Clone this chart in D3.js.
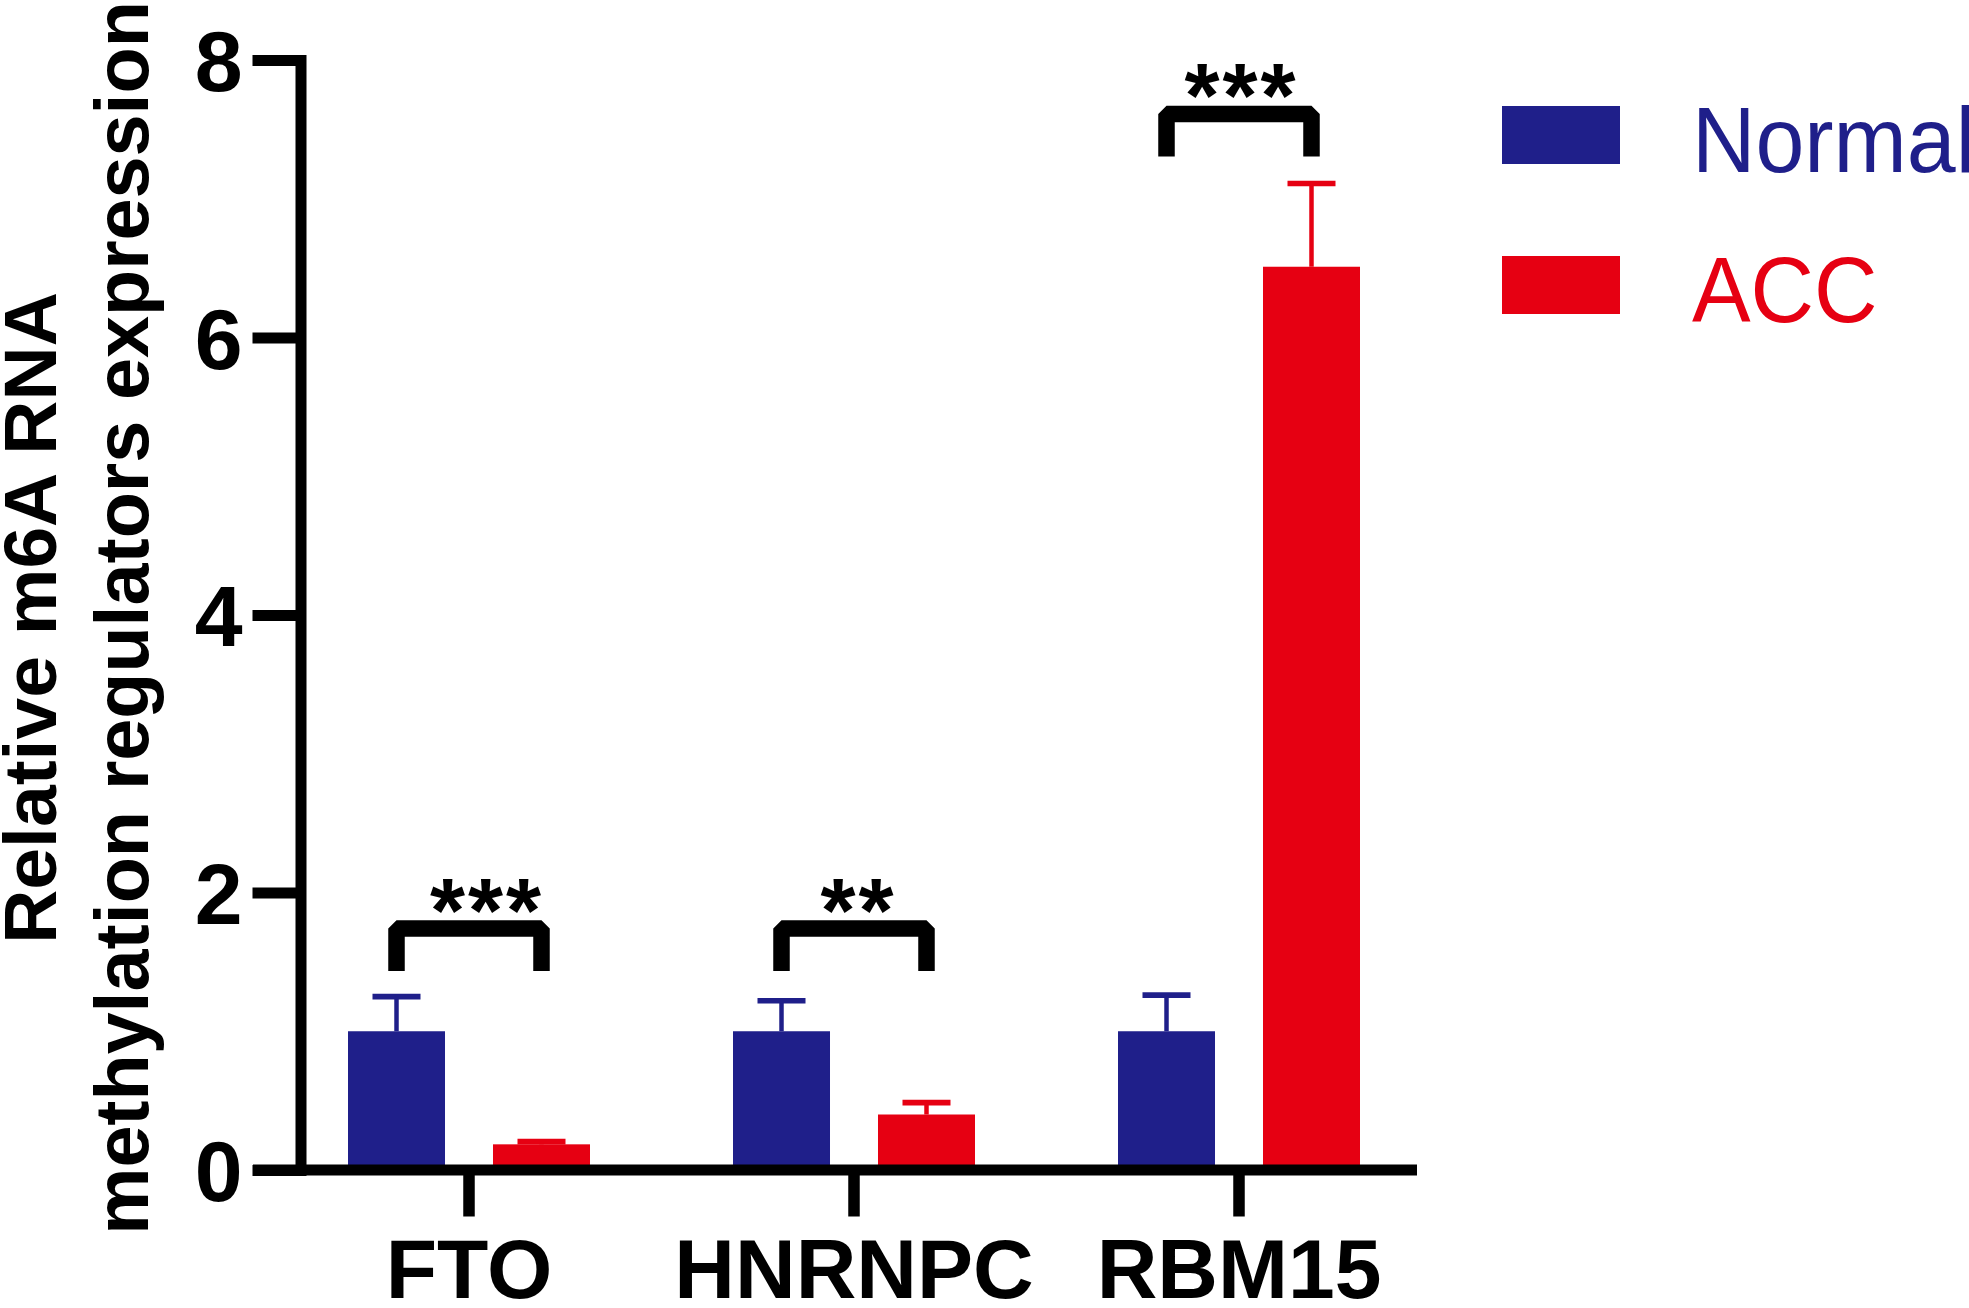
<!DOCTYPE html>
<html><head><meta charset="utf-8">
<script src="https://cdn.jsdelivr.net/npm/d3@7"></script>
<style>html,body{margin:0;padding:0;background:#fff;} svg{display:block;}</style>
</head><body>
<svg id="chart" width="1969" height="1308"></svg>
<script>
// ---- data ----
const categories = ["FTO", "HNRNPC", "RBM15"];
const seriesNames = ["Normal", "ACC"];
const normalMeans = [1.0, 1.0, 1.0];
const normalErrors = [0.25, 0.22, 0.26];
const accMeans = [0.185, 0.40, 6.51];
const accErrors = [0.02, 0.085, 0.60];
const yTickValues = [0, 2, 4, 6, 8];
const sigLabels = ["***", "**", "***"];
const sigLevels = [1.74, 1.74, 7.61];
const sigDrop = 0.306;
const yTitleLines = ["Relative m6A RNA", "methylation regulators expression"];

// ---- styles ----
const colors = {Normal: "#1f1f8a", ACC: "#e60012"};
const FONT = "'Liberation Sans', Arial, Helvetica, sans-serif";
const starShift = [18, 4.5, 2.5];

const svg = d3.select("#chart");
const y = d3.scaleLinear().domain([0, 8]).range([1170, 60]);
const x = d3.scaleBand().domain(categories).range([276.5, 1431.5]).padding(0);
const sub = d3.scaleBand().domain(seriesNames).range([-121, 121]).paddingInner(0.331);
const cx = c => x(c) + x.bandwidth() / 2;

const rows = categories.map((c, i) => ({
  cat: c,
  vals: [
    {s: "Normal", m: normalMeans[i], e: normalErrors[i]},
    {s: "ACC", m: accMeans[i], e: accErrors[i]}
  ]
}));

// bars
const g = svg.append("g");
const grp = g.selectAll("g.cat").data(rows).join("g")
  .attr("class", "cat").attr("transform", d => `translate(${cx(d.cat)},0)`);
grp.selectAll("rect").data(d => d.vals).join("rect")
  .attr("x", d => sub(d.s)).attr("width", sub.bandwidth())
  .attr("y", d => y(d.m)).attr("height", d => y(0) - y(d.m))
  .attr("fill", d => colors[d.s]);
// error bars
grp.selectAll("line.err").data(d => d.vals).join("line")
  .attr("class", "err")
  .attr("x1", d => sub(d.s) + sub.bandwidth() / 2).attr("x2", d => sub(d.s) + sub.bandwidth() / 2)
  .attr("y1", d => y(d.m)).attr("y2", d => y(d.m + d.e))
  .attr("stroke", d => colors[d.s]).attr("stroke-width", 4.5);
grp.selectAll("line.cap").data(d => d.vals).join("line")
  .attr("class", "cap")
  .attr("x1", d => sub(d.s) + sub.bandwidth() / 2 - 24).attr("x2", d => sub(d.s) + sub.bandwidth() / 2 + 24)
  .attr("y1", d => y(d.m + d.e)).attr("y2", d => y(d.m + d.e))
  .attr("stroke", d => colors[d.s]).attr("stroke-width", 5.7);

// significance brackets
categories.forEach((c, i) => {
  const xl = cx(c) + sub("Normal") + sub.bandwidth() / 2;
  const xr = cx(c) + sub("ACC") + sub.bandwidth() / 2;
  const yt = y(sigLevels[i]);
  const yb = y(sigLevels[i] - sigDrop);
  svg.append("path")
    .attr("d", `M${xl},${yb}V${yt}H${xr}V${yb}`)
    .attr("fill", "none").attr("stroke", "#000").attr("stroke-width", 16.5)
    .attr("stroke-linejoin", "bevel").attr("stroke-linecap", "butt");
  svg.append("text")
    .attr("x", (xl + xr) / 2 + starShift[i]).attr("y", yt + 13)
    .attr("text-anchor", "middle")
    .attr("font-family", FONT).attr("font-weight", "bold").attr("font-size", 90)
    .attr("letter-spacing", 3)
    .text(sigLabels[i]);
});

// y axis
const axisX = 301;
const yAxis = svg.append("g").attr("transform", `translate(${axisX - 0.5},0)`)
  .call(d3.axisLeft(y).tickValues(yTickValues).tickSize(48).tickSizeOuter(0).tickPadding(10).tickFormat(d3.format("d")));
yAxis.select(".domain").attr("stroke-width", 11).attr("stroke-linecap", "square");
yAxis.selectAll(".tick line").attr("stroke-width", 11);
yAxis.selectAll(".tick text")
  .attr("font-family", FONT).attr("font-weight", "bold").attr("font-size", 86)
  .attr("fill", "#000").attr("dy", "0.36em");

// x axis
const xAxis = svg.append("g").attr("transform", `translate(0,${y(0) - 0.5})`)
  .call(d3.axisBottom(x).tickSize(47).tickSizeOuter(0));
xAxis.select(".domain").remove();
xAxis.selectAll(".tick line").attr("stroke-width", 11.5);
xAxis.selectAll(".tick text")
  .attr("font-family", FONT).attr("font-weight", "bold").attr("font-size", 84)
  .attr("fill", "#000").attr("y", 128).attr("dy", 0);
svg.append("line")
  .attr("x1", axisX - 48).attr("x2", 1417)
  .attr("y1", y(0)).attr("y2", y(0))
  .attr("stroke", "#000").attr("stroke-width", 11);

// y title
const tg = svg.append("g").attr("transform", `translate(0,${(y(0) + y(8)) / 2 + 3}) rotate(-90)`);
tg.selectAll("text").data(yTitleLines).join("text")
  .attr("x", 0).attr("y", (d, i) => i === 0 ? 56 : 148)
  .attr("text-anchor", "middle")
  .attr("font-family", FONT).attr("font-weight", "bold")
  .attr("font-size", (d, i) => i === 0 ? 75 : 75.5)
  .text(d => d);

// legend
const lg = svg.append("g");
seriesNames.forEach((s, i) => {
  const ry = 106 + i * 150;
  lg.append("rect").attr("x", 1502).attr("y", ry).attr("width", 118).attr("height", 58)
    .attr("fill", colors[s]);
  lg.append("text")
    .attr("transform", `translate(1692,${ry + 29 + 37}) scale(0.945,1)`)
    .attr("font-family", FONT).attr("font-size", 93).attr("fill", colors[s])
    .text(s);
});
</script>
</body></html>
